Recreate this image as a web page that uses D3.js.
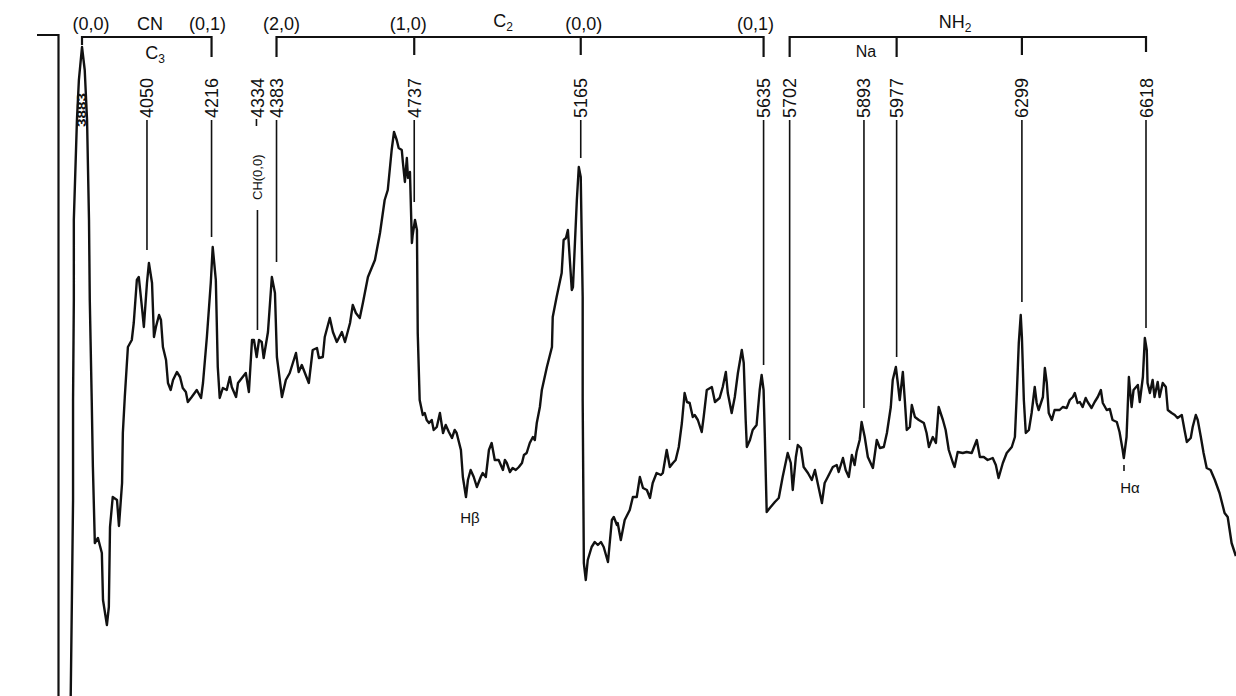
<!DOCTYPE html>
<html>
<head>
<meta charset="utf-8">
<script src="https://cdn.jsdelivr.net/npm/d3@7"></script>
<style>
body { margin: 0; background: #fff; }
svg { display: block; font-family: "Liberation Sans", Arial, sans-serif; fill: #111; }
.trace { fill: none; stroke: #111; stroke-width: 2.4; stroke-linejoin: round; }
.marker { stroke: #111; stroke-width: 1.6; }
.bracket { fill: none; stroke: #111; stroke-width: 2.2; }
</style>
</head>
<body>
<div id="chart"></div>
<script>
// spectrum tracing, wavelength in angstrom / relative intensity
var wavelength = [3854, 3857, 3860, 3860, 3862, 3862, 3870, 3875, 3883, 3890, 3896, 3901, 3903, 3908, 3911, 3916, 3924, 3934, 3937, 3947,
  3952, 3955, 3962, 3973, 3978, 3986, 3988, 3993, 4001, 4011, 4016, 4024, 4029, 4037, 4042, 4050, 4055, 4063, 4068, 4073,
  4081, 4086, 4091, 4099, 4104, 4111, 4117, 4127, 4135, 4142, 4150, 4155, 4165, 4178, 4189, 4194, 4204, 4214, 4219, 4227,
  4232, 4237, 4245, 4255, 4263, 4268, 4279, 4284, 4294, 4304, 4312, 4320, 4325, 4332, 4338, 4345, 4350, 4361, 4371, 4379,
  4384, 4397, 4407, 4417, 4433, 4440, 4448, 4456, 4466, 4476, 4487, 4492, 4502, 4507, 4520, 4528, 4538, 4551, 4559, 4572,
  4579, 4587, 4597, 4605, 4618, 4636, 4649, 4661, 4669, 4679, 4685, 4692, 4697, 4705, 4708, 4713, 4718, 4721, 4726, 4731,
  4733, 4739, 4744, 4746, 4751, 4759, 4764, 4769, 4775, 4782, 4787, 4795, 4803, 4811, 4818, 4826, 4834, 4841, 4846, 4857,
  4862, 4870, 4875, 4882, 4890, 4898, 4908, 4913, 4921, 4929, 4936, 4944, 4954, 4965, 4970, 4975, 4983, 4990, 4998, 5006,
  5014, 5019, 5026, 5034, 5042, 5047, 5052, 5060, 5065, 5078, 5091, 5093, 5103, 5116, 5121, 5127, 5132, 5142, 5145, 5155,
  5160, 5165, 5170, 5170, 5173, 5178, 5183, 5193, 5201, 5209, 5217, 5224, 5235, 5245, 5250, 5258, 5260, 5268, 5278, 5291,
  5299, 5309, 5317, 5325, 5335, 5343, 5350, 5360, 5371, 5376, 5386, 5394, 5402, 5409, 5417, 5425, 5432, 5438, 5445, 5453,
  5458, 5466, 5476, 5481, 5489, 5502, 5510, 5522, 5530, 5538, 5543, 5553, 5561, 5569, 5579, 5584, 5589, 5592, 5600, 5607,
  5617, 5625, 5630, 5635, 5638, 5643, 5651, 5664, 5674, 5684, 5697, 5705, 5710, 5718, 5723, 5731, 5738, 5749, 5759, 5767,
  5774, 5785, 5792, 5800, 5813, 5823, 5828, 5839, 5846, 5854, 5862, 5869, 5874, 5882, 5887, 5895, 5903, 5916, 5926, 5934,
  5944, 5952, 5962, 5967, 5975, 5980, 5985, 5993, 5998, 6003, 6011, 6016, 6024, 6034, 6047, 6054, 6060, 6070, 6078, 6085,
  6096, 6103, 6111, 6121, 6126, 6134, 6147, 6157, 6170, 6183, 6191, 6201, 6211, 6224, 6232, 6239, 6250, 6260, 6273, 6281,
  6286, 6291, 6296, 6299, 6304, 6309, 6317, 6324, 6332, 6337, 6342, 6353, 6358, 6363, 6368, 6376, 6383, 6396, 6404, 6414,
  6422, 6430, 6435, 6442, 6448, 6455, 6463, 6468, 6478, 6486, 6494, 6502, 6507, 6517, 6525, 6532, 6543, 6550, 6558, 6561,
  6568, 6574, 6581, 6586, 6597, 6602, 6610, 6615, 6620, 6622, 6628, 6635, 6640, 6648, 6653, 6661, 6669, 6674, 6684, 6692,
  6699, 6710, 6717, 6723, 6733, 6738, 6746, 6751, 6759, 6766, 6774, 6784, 6795, 6807, 6820, 6828, 6838, 6849];

var intensity = [0.0, 9.6, 19.6, 29.6, 39.6, 47.6, 57.6, 61.6, 64.9, 62.6, 57.6, 47.6, 39.6, 29.6, 22.9, 15.3, 15.8, 14.3, 9.6, 7.1,
  8.9, 16.9, 19.9, 19.6, 17.0, 21.3, 26.3, 29.9, 34.9, 35.6, 37.3, 41.6, 41.9, 38.9, 36.9, 41.3, 43.3, 41.3, 35.9, 36.9,
  38.1, 37.6, 34.9, 33.6, 31.3, 30.6, 31.6, 32.4, 31.9, 30.8, 30.4, 29.4, 29.9, 30.6, 29.8, 31.3, 35.9, 41.3, 44.9, 41.6,
  32.9, 29.8, 30.8, 30.6, 31.9, 30.9, 29.9, 31.3, 31.8, 32.3, 30.4, 35.6, 35.6, 33.9, 35.6, 35.4, 33.8, 36.4, 41.9, 40.3,
  33.9, 29.9, 31.6, 32.3, 34.3, 32.4, 33.1, 32.3, 31.3, 34.6, 34.8, 33.8, 33.9, 35.9, 37.8, 36.4, 35.4, 36.4, 35.4, 37.3,
  39.1, 38.3, 37.8, 39.3, 41.9, 43.6, 46.3, 49.6, 50.6, 54.6, 56.4, 55.6, 54.8, 54.6, 53.3, 51.4, 53.8, 51.8, 52.4, 45.3,
  46.1, 47.6, 46.6, 36.3, 29.6, 28.1, 28.3, 27.6, 27.3, 27.6, 26.6, 26.9, 28.3, 26.3, 27.1, 26.4, 25.8, 26.6, 26.3, 24.6,
  21.9, 19.9, 21.6, 22.6, 21.9, 20.9, 21.9, 22.3, 21.9, 24.6, 25.3, 23.6, 23.6, 22.6, 23.6, 23.3, 22.4, 22.8, 22.6, 22.9,
  23.3, 24.1, 24.3, 25.3, 25.9, 25.6, 27.3, 28.9, 30.6, 32.9, 34.9, 37.9, 39.9, 42.3, 45.6, 45.8, 46.6, 40.6, 40.9, 49.6,
  52.9, 51.9, 39.9, 29.6, 13.3, 11.6, 13.6, 14.9, 15.4, 15.1, 15.4, 14.9, 13.4, 17.6, 17.9, 17.1, 17.3, 15.6, 17.6, 18.6,
  19.9, 19.9, 21.9, 20.8, 20.6, 19.8, 21.3, 22.3, 22.1, 22.3, 24.6, 22.9, 23.3, 23.6, 24.9, 27.3, 30.3, 29.4, 29.3, 27.9,
  28.1, 27.6, 26.4, 27.9, 30.6, 30.9, 29.4, 29.8, 30.9, 32.4, 30.3, 28.3, 29.9, 32.3, 34.6, 33.3, 27.6, 24.9, 25.6, 26.6,
  27.1, 30.6, 32.1, 30.6, 26.3, 18.4, 18.8, 19.4, 19.8, 21.9, 24.3, 23.3, 20.6, 23.9, 25.1, 24.8, 22.9, 22.3, 21.6, 22.6,
  21.3, 19.3, 21.3, 21.9, 22.9, 23.1, 22.4, 23.8, 22.6, 21.9, 24.1, 23.1, 24.4, 25.6, 27.4, 25.9, 23.9, 22.8, 25.6, 24.8,
  24.9, 26.3, 28.9, 31.6, 32.9, 31.3, 29.6, 32.4, 29.6, 26.6, 26.9, 29.1, 27.9, 27.6, 27.3, 26.3, 24.9, 25.9, 25.3, 28.9,
  27.6, 26.6, 24.6, 23.4, 22.9, 24.4, 24.3, 24.4, 24.3, 25.6, 23.9, 23.9, 23.6, 23.8, 23.1, 21.8, 23.3, 24.3, 24.9, 25.9,
  30.3, 35.3, 38.1, 35.9, 29.6, 26.3, 26.6, 28.3, 30.9, 29.3, 28.6, 29.9, 32.8, 31.3, 28.3, 27.6, 28.6, 28.6, 28.9, 28.8,
  29.6, 29.9, 30.3, 29.3, 29.4, 28.9, 29.8, 29.4, 28.8, 29.4, 29.9, 30.6, 29.3, 28.6, 28.7, 27.6, 27.4, 26.4, 24.6, 23.8,
  25.9, 31.9, 28.9, 30.6, 31.1, 29.4, 31.9, 35.8, 34.6, 31.3, 30.3, 31.6, 29.9, 31.4, 29.9, 31.3, 30.9, 28.6, 28.3, 28.1,
  27.8, 28.1, 26.6, 25.4, 25.8, 26.9, 28.1, 27.6, 25.9, 24.3, 22.8, 22.6, 21.6, 20.3, 18.3, 17.9, 15.3, 14.0];

// identified lines: wavelength, label, level where the leader stops
var markerWl = [4050, 4216, 4334, 4383, 4737, 5165, 5635, 5702, 5893, 5977, 6299, 6618];
var markerLabel = ["4050", "4216", "4334", "4383", "4737", "5165", "5635", "5702", "5893", "5977", "6299", "6618"];
var markerEnd = [44.6, 45.9, 36.6, 43.4, 49.4, 53.8, 33.1, 25.6, 28.8, 33.9, 39.4, 36.8];

// band systems on top
var bandName = ["CN", "C", "NH"];
var bandSub = ["", "2", "2"];
var bandTicks = [[3883, 4216], [4383, 4737, 5165, 5635], [5702, 5977, 6299, 6618]];
var bandTickLabels = [["(0,0)", "(0,1)"], ["(2,0)", "(1,0)", "(0,0)", "(0,1)"], []];

var width = 1236, height = 696;

var svg = d3.select("#chart").append("svg")
  .attr("width", width)
  .attr("height", height);

var x = d3.scaleLinear()
  .domain([3883, 6618])
  .range([82, 1146]);

var y = d3.scaleLinear()
  .domain([0, 70])
  .range([696, -4]);

var pts = wavelength.map((w, i) => [w, intensity[i]]);

// left frame
svg.append("path")
  .attr("class", "bracket")
  .attr("stroke-width", 2.6)
  .attr("d", "M37,35H58.5V696");

// trace
var line = d3.line()
  .x(d => x(d[0]))
  .y(d => y(d[1]));

svg.append("path")
  .datum(pts)
  .attr("class", "trace")
  .attr("d", line);

// label inside the 3883 peak
svg.append("text")
  .attr("transform", `translate(${x(3883) + 4}, 127) rotate(-90)`)
  .attr("font-size", 12)
  .attr("font-weight", "bold")
  .attr("textLength", 34)
  .attr("lengthAdjust", "spacingAndGlyphs")
  .text("3883");

// marker leaders + rotated labels
var labelBase = 118;
markerWl.forEach(function(w, i) {
  var mx = x(w);
  var top = w === 4334 ? 210 : labelBase + 2;
  svg.append("line")
    .attr("class", "marker")
    .attr("x1", mx).attr("x2", mx)
    .attr("y1", top).attr("y2", y(markerEnd[i]));
  svg.append("text")
    .attr("transform", `translate(${mx + 6.5}, ${labelBase}) rotate(-90)`)
    .attr("font-size", 18)
    .text(markerLabel[i]);
});

// CH(0,0) goes with 4334
svg.append("line")
  .attr("class", "marker")
  .attr("x1", x(4334) - 1).attr("x2", x(4334) - 1)
  .attr("y1", 119).attr("y2", 126);
svg.append("text")
  .attr("transform", `translate(${x(4334) + 4.5}, 200) rotate(-90)`)
  .attr("font-size", 13)
  .text("CH(0,0)");

// brackets
var bracketY = 37;
var tickLen = [[8, 20], [20, 18, 18, 20], [20, 20, 18, 15]];
var tickDx = [[9, -4], [5, -6, 3, -8], []];
bandTicks.forEach(function(ticks, b) {
  var x0 = x(ticks[0]), x1 = x(ticks[ticks.length - 1]);
  svg.append("line")
    .attr("class", "bracket")
    .attr("x1", x0).attr("x2", x1)
    .attr("y1", bracketY).attr("y2", bracketY);
  ticks.forEach(function(t, k) {
    svg.append("line")
      .attr("class", "bracket")
      .attr("x1", x(t)).attr("x2", x(t))
      .attr("y1", bracketY - 1).attr("y2", bracketY + tickLen[b][k]);
    if (bandTickLabels[b][k]) {
      svg.append("text")
        .attr("x", x(t) + tickDx[b][k])
        .attr("y", 30)
        .attr("text-anchor", "middle")
        .attr("font-size", 18)
        .text(bandTickLabels[b][k]);
    }
  });
});

// band names
var namePos = [[150, 30], [503, 27], [955, 28]];
bandName.forEach(function(n, b) {
  var t = svg.append("text")
    .attr("x", namePos[b][0])
    .attr("y", namePos[b][1])
    .attr("text-anchor", "middle")
    .attr("font-size", 18)
    .text(n);
  if (bandSub[b]) {
    t.append("tspan").attr("font-size", 12).attr("dy", 4).text(bandSub[b]);
  }
});

// secondary names under the brackets
var c3 = svg.append("text")
  .attr("x", 155).attr("y", 59)
  .attr("text-anchor", "middle")
  .attr("font-size", 18)
  .text("C");
c3.append("tspan").attr("font-size", 12).attr("dy", 4).text("3");

svg.append("text")
  .attr("x", x(5893) + 2).attr("y", 57)
  .attr("text-anchor", "middle")
  .attr("font-size", 16)
  .text("Na");

// hydrogen lines
svg.append("text")
  .attr("x", 470).attr("y", 523)
  .attr("text-anchor", "middle")
  .attr("font-size", 15)
  .text("Hβ");

svg.append("line")
  .attr("class", "marker")
  .attr("x1", 1124).attr("x2", 1124)
  .attr("y1", 465).attr("y2", 471);
svg.append("text")
  .attr("x", 1130).attr("y", 493)
  .attr("text-anchor", "middle")
  .attr("font-size", 15)
  .text("Hα");
</script>
</body>
</html>
